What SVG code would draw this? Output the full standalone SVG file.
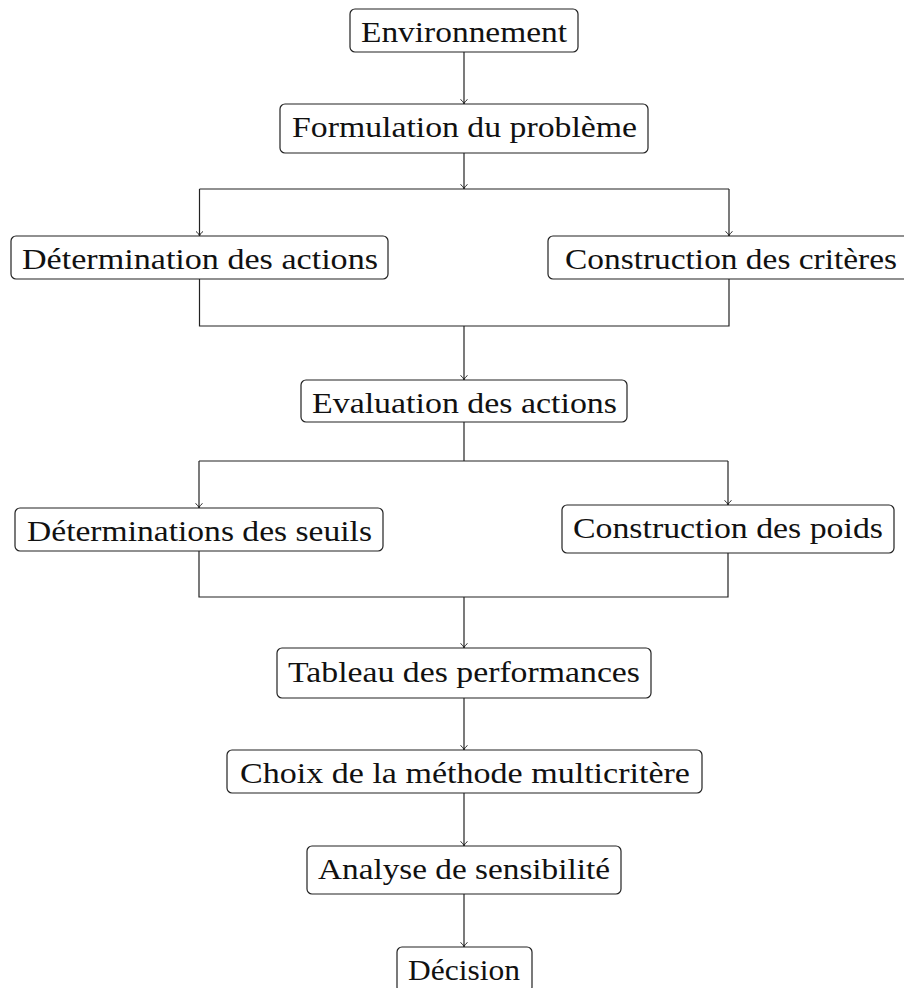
<svg xmlns="http://www.w3.org/2000/svg" width="904" height="988" viewBox="0 0 904 988">
  <style>
    .box { fill: #ffffff; stroke: #222222; stroke-width: 1.2; }
    .lbl { font-family: "Liberation Serif", "DejaVu Serif", serif; font-size: 29px; fill: #111111; text-anchor: middle; }
    .wire { fill: none; stroke: #222222; stroke-width: 1.2; }
  </style>
  <defs>
    <marker id="tip" markerUnits="userSpaceOnUse" markerWidth="12" markerHeight="12" viewBox="-6 -6 12 12" refX="0" refY="0" orient="auto">
      <path d="M -4.5,-3.5 C -3,-1.2 -1.2,-0.3 0,0 C -1.2,0.3 -3,1.2 -4.5,3.5" fill="none" stroke="#222222" stroke-width="1"/>
    </marker>
  </defs>
  <rect width="904" height="988" fill="#ffffff"/>

  <!-- connectors -->
  <g id="connectors" class="wire">
    <path d="M 464,52 V 104" marker-end="url(#tip)"/>
    <path d="M 464,153 V 189" marker-end="url(#tip)"/>
    <path d="M 199.5,189 H 729"/>
    <path d="M 199.5,189 V 236" marker-end="url(#tip)"/>
    <path d="M 729,189 V 236" marker-end="url(#tip)"/>
    <path d="M 199.5,279 V 326 H 729 V 279"/>
    <path d="M 464,326 V 380" marker-end="url(#tip)"/>
    <path d="M 464,422 V 461"/>
    <path d="M 199,461 H 728"/>
    <path d="M 199,461 V 508" marker-end="url(#tip)"/>
    <path d="M 728,461 V 505" marker-end="url(#tip)"/>
    <path d="M 199,551 V 597 H 728 V 553"/>
    <path d="M 464,597 V 648" marker-end="url(#tip)"/>
    <path d="M 464,698 V 750" marker-end="url(#tip)"/>
    <path d="M 464,793 V 846" marker-end="url(#tip)"/>
    <path d="M 464,894 V 947" marker-end="url(#tip)"/>
  </g>

  <!-- nodes -->
  <g id="environnement">
    <rect class="box" x="350" y="9" width="228" height="43" rx="5"/>
    <text class="lbl" x="464" y="42" textLength="206" lengthAdjust="spacingAndGlyphs">Environnement</text>
  </g>
  <g id="formulation">
    <rect class="box" x="280" y="104" width="368" height="49" rx="5"/>
    <text class="lbl" x="464.5" y="137" textLength="345" lengthAdjust="spacingAndGlyphs">Formulation du problème</text>
  </g>
  <g id="determination-actions">
    <rect class="box" x="11" y="236" width="377" height="43" rx="5"/>
    <text class="lbl" x="200" y="268.5" textLength="356" lengthAdjust="spacingAndGlyphs">Détermination des actions</text>
  </g>
  <g id="construction-criteres">
    <rect class="box" x="548" y="236" width="366" height="43" rx="5"/>
    <text class="lbl" x="731" y="268.5" textLength="332" lengthAdjust="spacingAndGlyphs">Construction des critères</text>
  </g>
  <g id="evaluation">
    <rect class="box" x="301" y="380" width="326" height="42" rx="5"/>
    <text class="lbl" x="464.5" y="412.5" textLength="305" lengthAdjust="spacingAndGlyphs">Evaluation des actions</text>
  </g>
  <g id="seuils">
    <rect class="box" x="15" y="508" width="368" height="43" rx="5"/>
    <text class="lbl" x="199.5" y="541" textLength="345" lengthAdjust="spacingAndGlyphs">Déterminations des seuils</text>
  </g>
  <g id="poids">
    <rect class="box" x="562" y="505" width="332" height="48" rx="5"/>
    <text class="lbl" x="728" y="538" textLength="310" lengthAdjust="spacingAndGlyphs">Construction des poids</text>
  </g>
  <g id="tableau">
    <rect class="box" x="277" y="648" width="374" height="50" rx="5"/>
    <text class="lbl" x="464" y="682" textLength="352" lengthAdjust="spacingAndGlyphs">Tableau des performances</text>
  </g>
  <g id="choix">
    <rect class="box" x="227" y="750" width="475" height="43" rx="5"/>
    <text class="lbl" x="465" y="783" textLength="450" lengthAdjust="spacingAndGlyphs">Choix de la méthode multicritère</text>
  </g>
  <g id="analyse">
    <rect class="box" x="307" y="846" width="314" height="48" rx="5"/>
    <text class="lbl" x="464" y="878.5" textLength="292" lengthAdjust="spacingAndGlyphs">Analyse de sensibilité</text>
  </g>
  <g id="decision">
    <rect class="box" x="397" y="947" width="135" height="45" rx="5"/>
    <text class="lbl" x="464" y="980" textLength="112" lengthAdjust="spacingAndGlyphs">Décision</text>
  </g>
</svg>
